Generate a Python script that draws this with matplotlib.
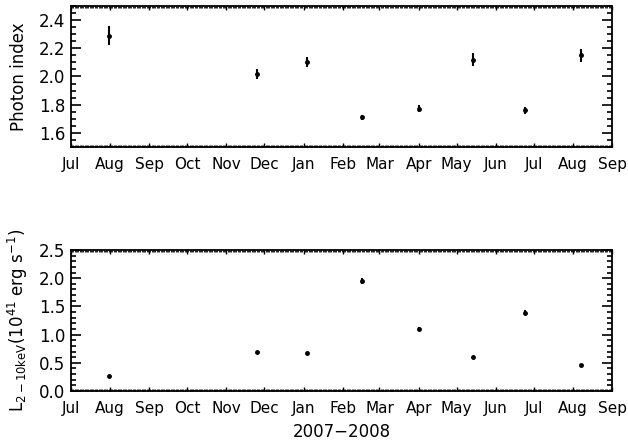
import matplotlib
matplotlib.use("Agg")
import matplotlib.pyplot as plt
import matplotlib.dates as mdates
from matplotlib.ticker import MultipleLocator
import numpy as np
import pandas as pd

obs_dates = ["2007-07-31", "2007-11-25", "2008-01-04", "2008-02-16",
             "2008-04-01", "2008-05-14", "2008-06-24", "2008-08-07"]

gamma = [2.29, 2.02, 2.10, 1.71, 1.77, 2.12, 1.76, 2.15]
gamma_err = [0.065, 0.035, 0.035, 0.02, 0.025, 0.045, 0.025, 0.045]

lum = [0.26, 0.69, 0.67, 1.95, 1.10, 0.60, 1.39, 0.47]
lum_err = [0.015, 0.015, 0.015, 0.05, 0.04, 0.015, 0.05, 0.015]

dates = pd.to_datetime(obs_dates)
xmin = pd.Timestamp("2007-07-01")
xmax = pd.Timestamp("2008-09-01")

plt.rcParams['font.family'] = 'DejaVu Sans'
plt.rcParams['font.size'] = 11

fig = plt.figure(figsize=(6.28, 4.45), dpi=100)
ax1 = fig.add_axes([0.1126, 0.6697, 0.8624, 0.3168])
ax2 = fig.add_axes([0.1126, 0.1213, 0.8624, 0.3169])


def style(ax):
    ax.set_xlim(xmin, xmax)
    ax.xaxis.set_major_locator(mdates.MonthLocator())
    ax.xaxis.set_major_formatter(mdates.DateFormatter('%b'))
    ax.xaxis.set_minor_locator(mdates.DayLocator())
    for s in ax.spines.values():
        s.set_linewidth(1.3)
    ax.tick_params(axis='x', which='major', direction='in', top=True,
                   length=3, width=1, pad=7, labelsize=11)
    ax.tick_params(axis='x', which='minor', direction='in', top=True,
                   length=1.5, width=0.6)
    ax.tick_params(axis='y', which='major', direction='in', right=True,
                   length=7, width=1.2, pad=4, labelsize=12)
    ax.tick_params(axis='y', which='minor', direction='in', right=True,
                   length=3.5, width=1.2)


ax1.errorbar(dates, gamma, yerr=gamma_err, fmt='o', color='black',
             markersize=2.5, elinewidth=1.5, capsize=0)
style(ax1)
ax1.set_ylim(1.5, 2.5)
ax1.yaxis.set_major_locator(MultipleLocator(0.2))
ax1.yaxis.set_minor_locator(MultipleLocator(0.05))
ax1.set_yticks([1.6, 1.8, 2.0, 2.2, 2.4])
ax1.set_ylabel("Photon index", fontsize=12, labelpad=8)

ax2.errorbar(dates, lum, yerr=lum_err, fmt='o', color='black',
             markersize=2.5, elinewidth=1.5, capsize=0)
style(ax2)
ax2.set_ylim(0, 2.5)
ax2.yaxis.set_major_locator(MultipleLocator(0.5))
ax2.yaxis.set_minor_locator(MultipleLocator(0.1))
ax2.set_ylabel(r"L$_{\rm 2-10keV}$(10$^{41}$ erg s$^{-1}$)", fontsize=12,
               labelpad=6)
ax2.set_xlabel("2007\u22122008", fontsize=12, labelpad=5)

fig.savefig("out.png", dpi=100)
